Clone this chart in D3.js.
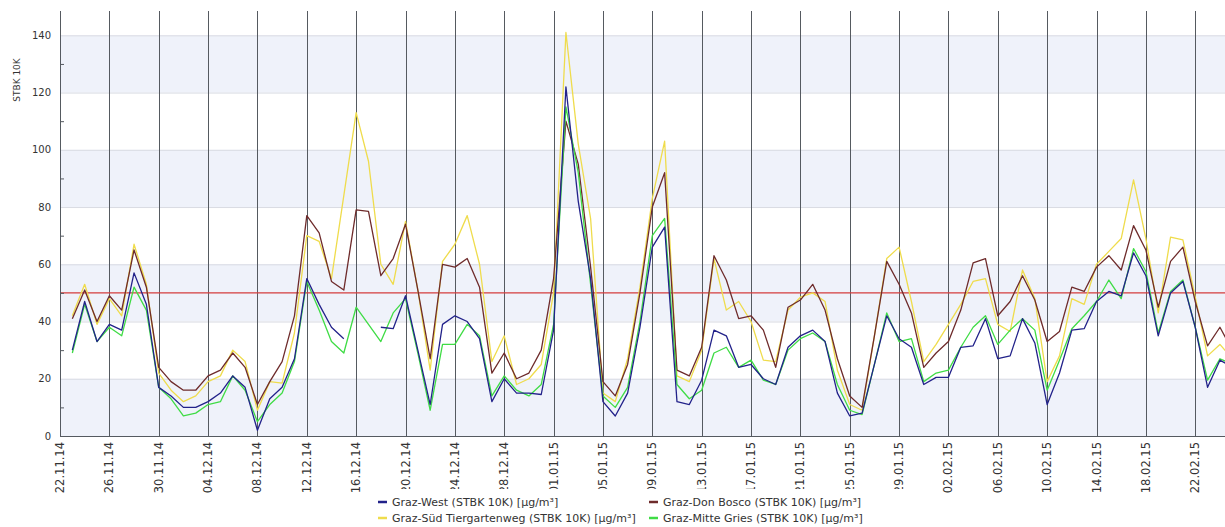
<!DOCTYPE html>
<html>
<head>
<meta charset="UTF-8">
<title>STBK 10K Graz</title>
<script src="https://cdn.jsdelivr.net/npm/d3@7"></script>
<style>
    body { margin: 0; background: #fff; }
    svg { display: block; font-family: "DejaVu Sans", Verdana, sans-serif; }
    .tick-label { fill: #333; }
</style>
</head>
<body>
<svg id="chart" width="1225" height="527"></svg>
<script>
    // daily values, first value is 23.11.14, one per day
    const firstDay = "23.11.14";
    const tickLabels = ["22.11.14", "26.11.14", "30.11.14", "04.12.14", "08.12.14", "12.12.14",
        "16.12.14", "20.12.14", "24.12.14", "28.12.14", "01.01.15", "05.01.15", "09.01.15",
        "13.01.15", "17.01.15", "21.01.15", "25.01.15", "29.01.15", "02.02.15", "06.02.15",
        "10.02.15", "14.02.15", "18.02.15", "22.02.15"];
    const yTicks = [0, 20, 40, 60, 80, 100, 120, 140];
    const limitValue = 50;

    const grazWest = [30, 47, 33, 39, 37, 57, 46, 17, 14, 10, 10, 12,
        15, 21, 17, 2, 13, 17, 27, 55, 46, 38, 34, null, null, 38, 37.5, 49,
        30, 11, 39, 42, 40, 34, 12, 20, 15, 15, 14.5, 37, 122, 82, 55, 12, 7, 15, 38, 66, 73,
        12, 11, 19.5, 37, 35, 24, 25, 20, 18, 31, 35, 37, 33, 15, 7, 8, 25, 42, 34, 31, 18, 20.5,
        20.5, 31, 31.5, 41, 27, 28, 41, 32.5, 11, 22, 37, 37.5, 47, 50.5, 49, 64, 56, 35, 50, 54,
        38, 17, 26.5, 24];
    const grazDonBosco = [41, 51, 40, 49, 44, 65, 52, 24, 19, 16, 16, 21,
        23, 29, 24, 11, 19, 26, 42, 77, 71, 54, 51, 79, 78.5, 56, 62, 74,
        51, 27, 60, 59, 62, 52, 22, 29, 20, 22, 30, 55, 110, 95, 59, 19, 14, 25, 50, 80, 92,
        23, 21, 31, 63, 54.5, 41, 42, 37, 24, 45, 47.5, 53, 44, 27, 14, 10, 35, 61, 53, 43, 24, 29,
        33, 44, 60.5, 62, 42, 47, 56, 47.5, 33, 36.5, 52, 50.5, 59, 63, 58, 73.5, 65, 45, 61, 66,
        47, 31.5, 38, 30];
    const grazSued = [42, 53, 39, 48, 42, 67, 53, 22, 16, 12, 14, 19,
        21, 30, 26, 9, 19, 18.5, 36, 70, 68, 55, 84, 113, 96, 60, 53, 75,
        51, 23, 61, 67, 77, 60, 26, 35, 18, 20, 25, 50, 141, 102, 76, 15, 12, 27, 52, 83, 103,
        21, 19, 30, 62, 44, 47, 40, 26.5, 26, 44, 48.5, 50, 47, 23, 11, 9, 35, 62, 66, 47, 26, 32,
        39, 46, 54, 55, 39, 36.5, 58, 48, 19, 28, 48, 46, 60, 64.5, 69, 89.5, 69, 43, 69.5, 68.5,
        48.5, 28, 32, 27];
    const grazMitte = [29, 46, 33, 38, 35, 52, 44, 17, 13, 7, 8, 11,
        12, 21, 16, 5, 11, 15, 26, 54, 44, 33, 29, 45, 39, 33, 43, 48,
        29, 9, 32, 32, 39, 35, 14, 21, 16, 14, 18, 39, 115, 92, 53, 14, 10, 17, 40, 70, 76,
        18, 13, 16, 29, 31, 24, 26.5, 19.5, 18, 30, 34, 36, 33, 18, 9, 7.5, 25, 43, 33, 34, 19, 22,
        23, 31, 38, 42, 32, 37, 41, 37, 16, 26.5, 37.5, 42, 47, 54.5, 48, 65.5, 57.5, 36, 50.5, 54.5,
        38, 19.5, 27, 25];

    const series = [
        {name: "Graz-Süd Tiergartenweg (STBK 10K) [µg/m³]", values: grazSued, color: "#efdc4c"},
        {name: "Graz-Don Bosco (STBK 10K) [µg/m³]", values: grazDonBosco, color: "#6e2b2b"},
        {name: "Graz-Mitte Gries (STBK 10K) [µg/m³]", values: grazMitte, color: "#3fdc45"},
        {name: "Graz-West (STBK 10K) [µg/m³]", values: grazWest, color: "#22228a"}
    ];
    const legendOrder = [3, 1, 0, 2];

    const parse = d3.timeParse("%d.%m.%y");
    const start = parse(firstDay);

    const chartWidth = 1225;
    const plotLeft = 60, plotTop = 11, plotBottom = 436;

    const x = d3.scaleTime()
        .domain([parse("22.11.14"), parse("26.02.15")])
        .range([plotLeft, 1244.6]);
    const y = d3.scaleLinear()
        .domain([0, 148.5])
        .range([plotBottom, plotTop]);

    const svg = d3.select("#chart");

    // bands
    svg.append("g")
        .selectAll("rect")
        .data(yTicks.filter((t, i) => i % 2 == 0))
        .join("rect")
        .attr("x", plotLeft)
        .attr("width", chartWidth - plotLeft)
        .attr("y", d => y(d + 20))
        .attr("height", d => y(d) - y(d + 20))
        .attr("fill", "#eff2fa");

    // horizontal grid
    svg.append("g")
        .selectAll("line")
        .data(yTicks.slice(1))
        .join("line")
        .attr("x1", plotLeft).attr("x2", chartWidth)
        .attr("y1", d => y(d) + 0.5).attr("y2", d => y(d) + 0.5)
        .attr("stroke", "#d9dbe3");

    // vertical lines at date ticks
    svg.append("g")
        .selectAll("line")
        .data(tickLabels.slice(1))
        .join("line")
        .attr("x1", d => Math.round(x(parse(d))) + 0.5)
        .attr("x2", d => Math.round(x(parse(d))) + 0.5)
        .attr("y1", plotTop).attr("y2", plotBottom)
        .attr("stroke", "#555a60");

    // limit line
    svg.append("line")
        .attr("x1", plotLeft).attr("x2", chartWidth)
        .attr("y1", y(limitValue)).attr("y2", y(limitValue))
        .attr("stroke", "#d43c3c")
        .attr("stroke-width", 1.4);

    // series lines
    const line = d3.line()
        .defined(d => d.v != null)
        .x(d => x(d.date))
        .y(d => y(d.v));

    svg.append("g")
        .selectAll("path")
        .data(series)
        .join("path")
        .attr("fill", "none")
        .attr("stroke", d => d.color)
        .attr("stroke-width", 1.3)
        .attr("stroke-linejoin", "round")
        .attr("d", d => line(d.values.map((v, i) => ({date: d3.timeDay.offset(start, i), v: v}))));

    // axes
    svg.append("line")
        .attr("x1", plotLeft + 0.5).attr("x2", plotLeft + 0.5)
        .attr("y1", plotTop).attr("y2", plotBottom)
        .attr("stroke", "#555a60");
    svg.append("line")
        .attr("x1", plotLeft).attr("x2", chartWidth)
        .attr("y1", plotBottom + 0.5).attr("y2", plotBottom + 0.5)
        .attr("stroke", "#555a60");

    // minor y ticks
    svg.append("g")
        .selectAll("line")
        .data(yTicks.slice(0, -1).map(t => t + 10))
        .join("line")
        .attr("x1", plotLeft).attr("x2", plotLeft + 4)
        .attr("y1", d => y(d) + 0.5).attr("y2", d => y(d) + 0.5)
        .attr("stroke", "#555a60");

    svg.append("g")
        .selectAll("text")
        .data(yTicks)
        .join("text")
        .attr("class", "tick-label")
        .attr("x", 51)
        .attr("y", d => y(d))
        .attr("dy", "0.35em")
        .attr("text-anchor", "end")
        .attr("font-size", 10)
        .text(d => d);

    svg.append("text")
        .attr("transform", "translate(17,80) rotate(-90)")
        .attr("dy", "0.35em")
        .attr("text-anchor", "middle")
        .attr("font-size", 9)
        .attr("fill", "#333")
        .text("STBK 10K");

    // x tick labels
    svg.append("g")
        .selectAll("text")
        .data(tickLabels)
        .join("text")
        .attr("class", "tick-label")
        .attr("transform", d => "translate(" + x(parse(d)) + "," + (plotBottom + 6) + ") rotate(-90)")
        .attr("dy", "0.35em")
        .attr("text-anchor", "end")
        .attr("font-size", 11.5)
        .text(d => d);

    // legend, its white box hides the ends of some date labels
    const legend = svg.append("g");
    legend.append("rect")
        .attr("x", 371).attr("y", 489)
        .attr("width", 560).attr("height", 38)
        .attr("fill", "#fff");

    const items = legend.selectAll("g")
        .data(legendOrder)
        .join("g")
        .attr("transform", (d, i) => "translate(" + (i % 2 == 0 ? 378 : 649) + "," + (i < 2 ? 502 : 518) + ")");
    items.append("line")
        .attr("x1", 0).attr("x2", 9)
        .attr("stroke", d => series[d].color)
        .attr("stroke-width", 2.5);
    items.append("text")
        .attr("x", 14)
        .attr("dy", "0.35em")
        .attr("font-size", 11)
        .attr("fill", "#333")
        .text(d => series[d].name);
</script>
</body>
</html>
